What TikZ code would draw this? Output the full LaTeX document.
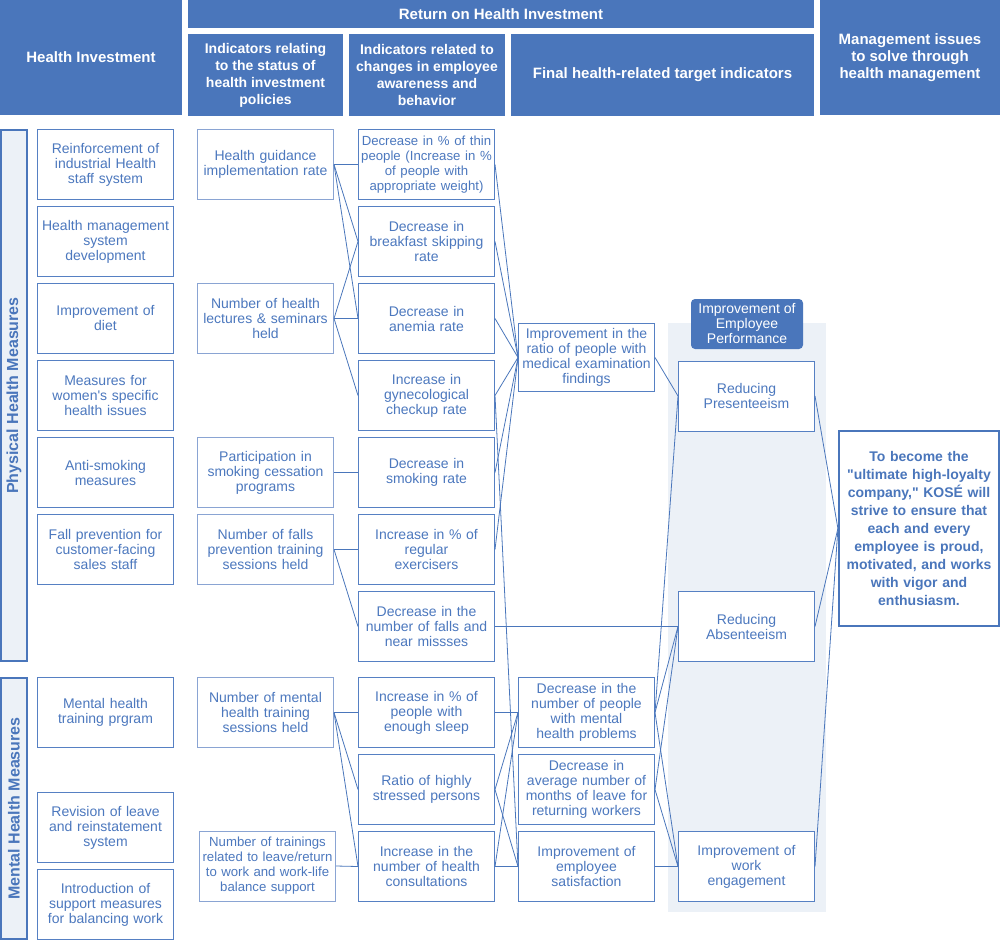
\documentclass[tikz,border=0pt]{standalone}
\usepackage{fontspec}
\setmainfont{Liberation Sans}[Ligatures=TeXOff]
\definecolor{kblue}{HTML}{4A76BB}
\definecolor{ktext}{HTML}{4C78BE}
\definecolor{kline}{HTML}{5680C3}
\definecolor{kpale}{HTML}{8AA4D3}
\definecolor{kshade}{HTML}{ECF1F7}
\tikzset{
  cell/.style={draw=kline, line width=1pt, fill=white, text=ktext, minimum width=136pt, minimum height=70pt, text width=136pt, align=center, inner sep=0pt, font=\fontsize{14}{15}\selectfont},
  palecell/.style={cell, draw=kpale},
  head/.style={fill=kblue, text=white, align=center, inner sep=0pt, font=\bfseries\fontsize{15}{17}\selectfont},
  subhead/.style={head, font=\bfseries\fontsize{14}{17}\selectfont},
  side/.style={draw=kblue, line width=2.5pt, fill=kshade, text=kblue, rotate=90, minimum height=26pt, inner sep=0pt, font=\bfseries\fontsize{16}{18}\selectfont},
  link/.style={draw=kblue, line width=0.8pt},
}
\begin{document}
\begin{tikzpicture}[x=1pt,y=-1pt]
    \useasboundingbox (0,0) rectangle (1000,941);
    \def\cA{105.5}
    \def\cB{265.5}
    \def\cC{426.5}
    \def\cD{586.5}
    \def\cE{746.5}
    % headers
    \node[head, minimum width=182pt, minimum height=115pt] (hInv) at (91,57.5) {Health Investment};
    \node[head, minimum width=626pt, minimum height=28pt] (hRet) at (501,14) {Return on Health Investment};
    \node[subhead, minimum width=155pt, minimum height=82pt] (hPol) at (265.5,75) {Indicators relating\\to the status of\\health investment\\policies};
    \node[subhead, minimum width=156pt, minimum height=82pt] (hChg) at (427,75) {Indicators related to\\changes in employee\\awareness and\\behavior};
    \node[head, minimum width=303pt, minimum height=82pt] (hFin) at (662.5,75) {Final health-related target indicators};
    \node[head, minimum width=180pt, minimum height=115pt] (hMgt) at (910,57.5) {Management issues\\to solve through\\health management};
    % side bars
    \node[side, minimum width=531pt] (sidePhys) at (14,395.5) {Physical Health Measures};
    \node[side, minimum width=261pt] (sideMent) at (14,808.5) {Mental Health Measures};
    % shaded performance area
    \fill[kshade] (668,323) rectangle (826,912);
    \node[fill=kblue, text=white, rounded corners=4pt, minimum width=112pt, minimum height=50pt, inner sep=0pt, align=center, font=\fontsize{14}{15}\selectfont] (perfHead) at (747,324) {Improvement of\\Employee\\Performance};
    % health investment
    \foreach \y/\n/\t in {164.5/1/{Reinforcement of\\industrial Health\\staff system},
      241.5/2/{Health management\\system\\development},
      318.5/3/{Improvement of\\diet},
      395.5/4/{Measures for\\women's specific\\health issues},
      472.5/5/{Anti-smoking\\measures},
      549.5/6/{Fall prevention for\\customer-facing\\sales staff},
      712.5/7/{Mental health\\training prgram},
      827.5/8/{Revision of leave\\and reinstatement\\system},
      904.5/9/{Introduction of\\support measures\\for balancing work}}
    {
    \node[cell] (inv\n) at (\cA,\y) {\t};
    }
    % policy indicators
    \foreach \x/\y/\n/\t in {\cB/164.5/1/{Health guidance\\implementation rate},
      \cB/318.5/2/{Number of health\\lectures \& seminars\\held},
      \cB/472.5/3/{Participation in\\smoking cessation\\programs},
      \cB/549.5/4/{Number of falls\\prevention training\\sessions held},
      \cB/712.5/5/{Number of mental\\health training\\sessions held}}
    {
    \node[palecell] (pol\n) at (\x,\y) {\t};
    }
    \node[palecell, font=\fontsize{13.2}{15}\selectfont] (pol6) at (267.5,866) {Number of trainings\\related to leave/return\\to work and work-life\\balance support};
    % awareness and behaviour indicators
    \foreach \y/\n/\t in {164.5/1/{\fontsize{13.2}{15}\selectfont Decrease in \% of thin\\people (Increase in \%\\of people with\\appropriate weight)},
      241.5/2/{Decrease in\\breakfast skipping\\rate},
      318.5/3/{Decrease in\\anemia rate},
      395.5/4/{Increase in\\gynecological\\checkup rate},
      472.5/5/{Decrease in\\smoking rate},
      549.5/6/{Increase in \% of\\regular\\exercisers},
      626.5/7/{Decrease in the\\number of falls and\\near missses},
      712.5/8/{Increase in \% of\\people with\\enough sleep},
      789.5/9/{Ratio of highly\\stressed persons},
      866.5/10/{Increase in the\\number of health\\consultations}}
    {
    \node[cell] (chg\n) at (\cC,\y) {\t};
    }
    % final target indicators
    \node[cell, minimum height=68pt] (fin1) at (\cD,357.5) {Improvement in the\\ratio of people with\\medical examination\\findings};
    \node[cell] (fin2) at (\cD,712.5) {Decrease in the\\number of people\\with mental\\health problems};
    \node[cell] (fin3) at (\cD,789.5) {Decrease in\\average number of\\months of leave for\\returning workers};
    \node[cell] (fin4) at (\cD,866.5) {Improvement of\\employee\\satisfaction};
    % employee performance
    \node[cell] (perf1) at (\cE,396) {Reducing\\Presenteeism};
    \node[cell] (perf2) at (\cE,626.5) {Reducing\\Absenteeism};
    \node[cell] (perf3) at (\cE,866.5) {Improvement of\\work\\engagement};
    % management issue
    \node[draw=kblue, line width=2.2pt, fill=white, text=kblue, minimum width=160pt, minimum height=195pt, text width=156pt, align=center, inner sep=0pt, font=\bfseries\fontsize{14}{18}\selectfont] (goal) at (919,528.5) {To become the\\"ultimate high-loyalty\\company," KOSÉ will\\strive to ensure that\\each and every\\employee is proud,\\motivated, and works\\with vigor and\\enthusiasm.};
    % connectors
    \foreach \a/\b in {pol1/chg1,pol1/chg2,pol1/chg3,pol2/chg2,pol2/chg3,pol2/chg4,pol3/chg5,%
      pol4/chg6,pol4/chg7,pol5/chg8,pol5/chg9,pol5/chg10,pol6/chg10,%
      chg1/fin1,chg2/fin1,chg3/fin1,chg4/fin1,chg5/fin1,chg6/fin1,chg4/fin4,chg7/perf2,%
      chg8/fin2,chg9/fin2,chg9/fin4,chg10/fin2,chg10/fin4,%
      fin1/perf1,fin2/perf1,fin2/perf2,fin2/perf3,fin3/perf2,fin3/perf3,fin4/perf3,%
      perf1/goal,perf2/goal,perf3/goal}
    {
    \draw[link] (\a.east) -- (\b.west);
    }
\end{tikzpicture}
\end{document}
